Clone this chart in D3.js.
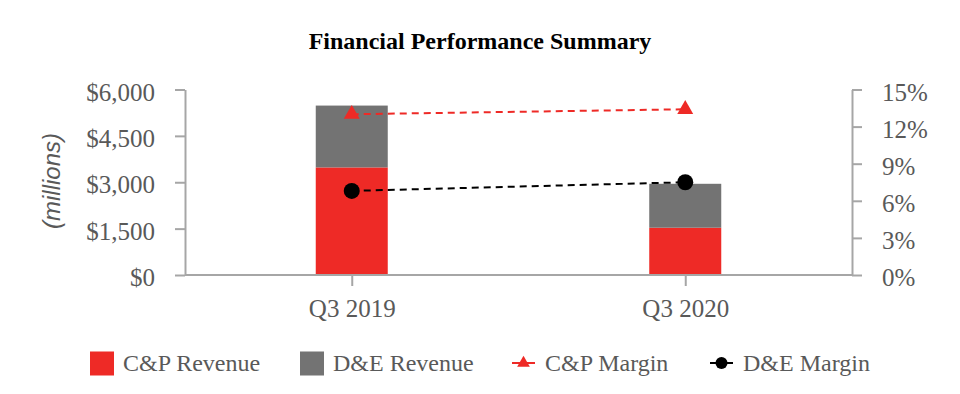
<!DOCTYPE html>
<html>

<head>
    <meta charset="UTF-8">
    <style>
        body { margin: 0; background: #fff; }
        svg { display: block; }
    </style>
</head>

<body>
    <svg></svg>
    <script src="https://d3js.org/d3.v7.min.js"></script>

    <script>

        let width = 960, height = 394;

        // chart data
        let quarters = ["Q3 2019", "Q3 2020"];
        let cpRevenue = [3480, 1530];
        let deRevenue = [2000, 1420];
        let cpMargin = [13.0, 13.4];
        let deMargin = [6.8, 7.5];
        let revenueTicks = [0, 1500, 3000, 4500, 6000];
        let marginTicks = [0, 3, 6, 9, 12, 15];

        let red = "#ee2a26", grey = "#737373", axisGrey = "#a6a6a6", textGrey = "#595959";
        let serif = "'Liberation Serif', 'Times New Roman', serif";

        let svg = d3.select("svg")
            .attr("width", width)
            .attr("height", height);

        let plotLeft = 185, plotRight = 852, plotTop = 89.5, plotBottom = 275;

        let x = d3.scalePoint().domain(quarters).range([plotLeft, plotRight]).padding(0.5);
        let y = d3.scaleLinear().domain([0, 6000]).range([plotBottom, plotTop]);
        let y2 = d3.scaleLinear().domain([0, 15]).range([plotBottom, plotTop]);
        let barW = 72;

        // title
        svg.append("text")
            .attr("x", 480).attr("y", 49)
            .attr("text-anchor", "middle")
            .style("font-family", serif)
            .style("font-weight", "bold")
            .style("font-size", "24px")
            .attr("fill", "#000")
            .text("Financial Performance Summary");

        // (millions)
        svg.append("text")
            .attr("transform", "translate(60,181) rotate(-90)")
            .attr("text-anchor", "middle")
            .style("font-family", "'Liberation Sans', Arial, sans-serif")
            .style("font-style", "italic")
            .style("font-size", "24px")
            .attr("fill", textGrey)
            .text("(millions)");

        // stacked bars
        let stack = quarters.map((q, i) => ({ q: q, cp: cpRevenue[i], de: deRevenue[i] }));
        let bars = svg.append("g").attr("id", "bars");
        bars.selectAll(".cp").data(stack).enter().append("rect")
            .attr("x", d => x(d.q) - barW / 2)
            .attr("width", barW)
            .attr("y", d => y(d.cp))
            .attr("height", d => y(0) - y(d.cp))
            .attr("fill", red);
        bars.selectAll(".de").data(stack).enter().append("rect")
            .attr("x", d => x(d.q) - barW / 2)
            .attr("width", barW)
            .attr("y", d => y(d.cp + d.de))
            .attr("height", d => y(d.cp) - y(d.cp + d.de))
            .attr("fill", grey);

        function styleAxis(g) {
            g.select(".domain").attr("stroke", axisGrey).attr("stroke-width", 2);
            g.selectAll(".tick line").attr("stroke", axisGrey).attr("stroke-width", 2);
            g.selectAll(".tick text")
                .attr("fill", textGrey)
                .style("font-family", serif)
                .style("font-size", "25px");
        }

        // left axis
        let yAxis = svg.append("g")
            .attr("transform", "translate(" + plotLeft + ",0)")
            .call(d3.axisLeft(y).tickValues(revenueTicks).tickSize(10).tickSizeOuter(0).tickPadding(20)
                .tickFormat(d => "$" + d3.format(",")(d)));
        styleAxis(yAxis);
        yAxis.selectAll(".tick text").attr("dy", "0.42em");

        // right axis
        let y2Axis = svg.append("g")
            .attr("transform", "translate(" + plotRight + ",0)")
            .call(d3.axisRight(y2).tickValues(marginTicks).tickSize(10).tickSizeOuter(0).tickPadding(20)
                .tickFormat(d => d + "%"));
        styleAxis(y2Axis);
        y2Axis.selectAll(".tick text").attr("dy", "0.42em");

        // bottom axis
        let xAxis = svg.append("g")
            .attr("transform", "translate(0," + plotBottom + ")")
            .call(d3.axisBottom(x).tickSize(11).tickSizeOuter(0).tickPadding(13));
        xAxis.select(".domain").attr("d", "M" + plotLeft + ",0H" + plotRight);
        styleAxis(xAxis);

        // margin lines
        let line = d3.line().x((d, i) => x(quarters[i])).y(d => y2(d));

        svg.append("path")
            .datum(cpMargin)
            .attr("d", line)
            .attr("fill", "none")
            .attr("stroke", red)
            .attr("stroke-width", 2)
            .attr("stroke-dasharray", "7,5");

        svg.append("path")
            .datum(deMargin)
            .attr("d", line)
            .attr("fill", "none")
            .attr("stroke", "#000")
            .attr("stroke-width", 2)
            .attr("stroke-dasharray", "7,5");

        let tri = d3.symbol().type(d3.symbolTriangle).size(110);
        svg.selectAll(".tri").data(cpMargin).enter().append("path")
            .attr("d", tri)
            .attr("transform", (d, i) => "translate(" + x(quarters[i]) + "," + y2(d) + ")")
            .attr("fill", red);

        svg.selectAll(".dot").data(deMargin).enter().append("circle")
            .attr("cx", (d, i) => x(quarters[i]))
            .attr("cy", d => y2(d))
            .attr("r", 8)
            .attr("fill", "#000");

        // legend
        let legend = svg.append("g").attr("id", "legend");
        let legendY = 363;
        let items = [
            { label: "C&P Revenue", x: 90, kind: "rect", color: red },
            { label: "D&E Revenue", x: 300, kind: "rect", color: grey },
            { label: "C&P Margin", x: 512, kind: "tri", color: red },
            { label: "D&E Margin", x: 710, kind: "dot", color: "#000" }
        ];
        items.forEach(it => {
            if (it.kind == "rect") {
                legend.append("rect")
                    .attr("x", it.x).attr("y", legendY - 11.5)
                    .attr("width", 24).attr("height", 24)
                    .attr("fill", it.color);
            } else {
                legend.append("line")
                    .attr("x1", it.x).attr("x2", it.x + 23)
                    .attr("y1", legendY).attr("y2", legendY)
                    .attr("stroke", it.color).attr("stroke-width", 2);
                if (it.kind == "tri") {
                    legend.append("path")
                        .attr("d", d3.symbol().type(d3.symbolTriangle).size(70))
                        .attr("transform", "translate(" + (it.x + 11.5) + "," + legendY + ")")
                        .attr("fill", it.color);
                } else {
                    legend.append("circle")
                        .attr("cx", it.x + 11.5).attr("cy", legendY)
                        .attr("r", 6).attr("fill", it.color);
                }
            }
            legend.append("text")
                .attr("x", it.x + 33).attr("y", legendY)
                .attr("dy", "0.35em")
                .style("font-family", serif)
                .style("font-size", "24px")
                .attr("fill", textGrey)
                .text(it.label);
        });
    </script>

</body>

</html>
